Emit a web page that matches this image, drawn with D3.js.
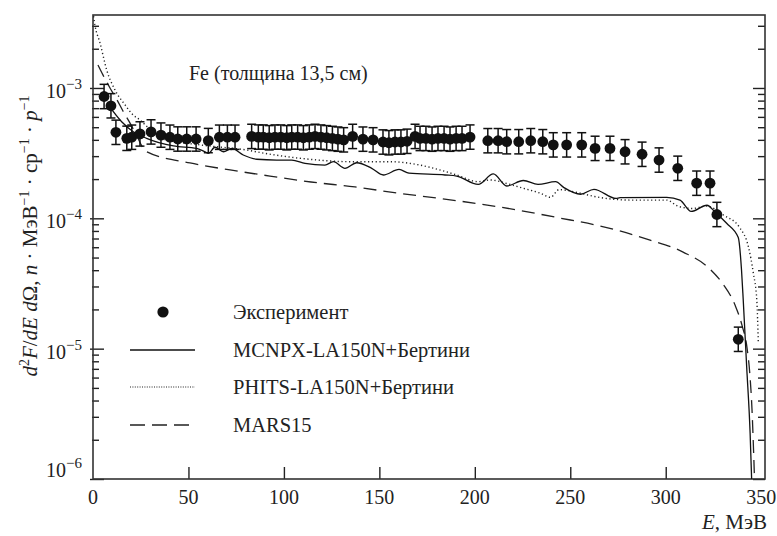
<!DOCTYPE html>
<html>
<head>
<meta charset="utf-8">
<script src="https://cdn.jsdelivr.net/npm/d3@7"></script>
<style>
  body { margin: 0; background: #fff; }
</style>
</head>
<body>
<svg id="chart" width="777" height="536"></svg>
<script>
// experiment points (energy, MeV / value)
const expE = [5.8, 9.4, 12.0, 17.7, 20.3, 24.6, 30.4, 35.6, 40.3, 44.4, 49.1, 54.0, 60.4, 66.2, 70.4, 74.4,
  83.1, 86.6, 89.2, 92.3, 95.3, 98.4, 101.5, 104.1, 107.2, 110.2, 113.3, 116.3, 119.4, 122.4, 125.4, 128.3, 131.3,
  136.0, 141.4, 146.7, 151.9, 155.0, 158.2, 161.3, 164.5, 168.7, 171.3, 174.4, 177.6, 180.7, 183.9, 187.0, 190.2, 193.3, 197.5,
  206.8, 212.2, 216.7, 223.0, 229.3, 235.6, 241.1, 248.1, 256.0, 263.0, 270.8, 278.7, 287.6, 296.5, 306.3, 316.2, 323.2, 326.8, 338.0];
const expV = [8.6e-4, 7.3e-4, 4.57e-4, 4.11e-4, 4.19e-4, 4.44e-4, 4.6e-4, 4.35e-4, 4.19e-4, 4.06e-4, 4.06e-4, 4.06e-4, 3.95e-4, 4.19e-4, 4.19e-4, 4.19e-4,
  4.25e-4, 4.2e-4, 4.2e-4, 4.15e-4, 4.2e-4, 4.2e-4, 4.15e-4, 4.2e-4, 4.2e-4, 4.15e-4, 4.2e-4, 4.25e-4, 4.2e-4, 4.15e-4, 4.1e-4, 4.05e-4, 4.0e-4,
  4.25e-4, 4.05e-4, 4.0e-4, 3.85e-4, 3.8e-4, 3.85e-4, 3.85e-4, 3.9e-4, 4.25e-4, 4.1e-4, 4.1e-4, 4.05e-4, 4.1e-4, 4.1e-4, 4.05e-4, 4.1e-4, 4.1e-4, 4.2e-4,
  3.94e-4, 3.94e-4, 3.87e-4, 3.87e-4, 3.94e-4, 3.87e-4, 3.66e-4, 3.66e-4, 3.66e-4, 3.44e-4, 3.44e-4, 3.24e-4, 3.10e-4, 2.80e-4, 2.42e-4, 1.86e-4, 1.86e-4, 1.07e-4, 1.18e-5];
const expErr = 1.24; // multiplicative error bar size

const mcnpxE = [8.0, 15.0, 21.1, 28.1, 42.1, 54.3, 58.7, 60.4, 63.9, 68.3, 72.7, 78.7, 85.8, 96.2, 104.1, 111.1, 121.5, 125.9,
  132.0, 138.1, 146.0, 152.1, 160.3, 165.5, 184.4, 190.5, 201.8, 209.7, 216.7, 225.4, 233.1, 242.3, 246.7, 255.4, 262.4,
  274.0, 276.1, 300.5, 307.5, 313.3, 321.6, 325.8, 331.9, 338.0, 339.7, 340.6, 342.4, 344.2, 345.0];
const mcnpxV = [7.41e-4, 5.51e-4, 4.62e-4, 4.11e-4, 3.59e-4, 3.44e-4, 3.24e-4, 3.15e-4, 3.51e-4, 3.24e-4, 3.44e-4, 3.06e-4, 2.84e-4, 2.80e-4, 2.80e-4, 2.64e-4, 2.56e-4, 2.72e-4,
  2.42e-4, 2.67e-4, 2.42e-4, 2.15e-4, 2.37e-4, 2.22e-4, 2.15e-4, 2.11e-4, 1.82e-4, 2.19e-4, 1.77e-4, 1.95e-4, 1.82e-4, 1.91e-4, 1.72e-4, 1.53e-4, 1.67e-4,
  1.42e-4, 1.44e-4, 1.45e-4, 1.38e-4, 1.13e-4, 1.26e-4, 1.12e-4, 9.16e-5, 7.13e-5, 4.01e-5, 2.36e-5, 7.26e-6, 2.25e-6, 1.0e-6];

const phitsE = [0.0, 1.0, 3.7, 7.2, 11.5, 16.8, 21.0, 24.6, 29.0, 35.1, 56.1, 80.5, 90.1, 117.9, 133.6, 155.6, 171.3, 184.4, 190.5,
  201.8, 208.0, 216.7, 225.4, 234.2, 239.7, 244.1, 255.1, 262.7, 282.1, 300.5, 306.4, 314.0, 321.4, 330.2, 338.9, 343.3, 345.9, 347.7, 348.5];
const phitsV = [3.8e-3, 3.04e-3, 2.21e-3, 1.37e-3, 9.66e-4, 7.41e-4, 6.21e-4, 5.68e-4, 4.94e-4, 4.13e-4, 3.66e-4, 3.34e-4, 3.15e-4, 2.80e-4, 2.72e-4, 2.72e-4, 2.56e-4, 2.29e-4, 2.15e-4,
  1.91e-4, 1.97e-4, 1.85e-4, 1.70e-4, 1.56e-4, 1.45e-4, 1.66e-4, 1.56e-4, 1.47e-4, 1.38e-4, 1.38e-4, 1.24e-4, 1.19e-4, 1.24e-4, 1.06e-4, 8.43e-5, 6.05e-5, 3.79e-5, 2.36e-5, 1.10e-5];

const marsE = [2.6, 5.2, 8.9, 12.6, 15.7, 19.4, 23.0, 26.2, 28.3, 50.8, 71.8, 92.7, 114.2, 137.2, 159.8, 181.8, 213.2, 244.6,
  265.6, 291.8, 309.1, 323.2, 330.0, 336.3, 339.9, 342.6, 344.1, 345.2, 346.0, 346.5];
const marsV = [1.50e-3, 1.26e-3, 1.0e-3, 8.09e-4, 6.66e-4, 5.38e-4, 4.28e-4, 3.47e-4, 3.23e-4, 2.66e-4, 2.35e-4, 2.11e-4, 1.90e-4, 1.74e-4, 1.56e-4, 1.42e-4, 1.22e-4, 1.005e-4,
  8.73e-5, 6.81e-5, 5.51e-5, 4.08e-5, 3.13e-5, 2.16e-5, 1.52e-5, 1.01e-5, 6.27e-6, 3.38e-6, 1.67e-6, 1.0e-6];

const xTicks = [0, 50, 100, 150, 200, 250, 300, 350];
const yMajor = [1e-6, 1e-5, 1e-4, 1e-3];
const yLabels = ["−6", "−5", "−4", "−3"];
const legendItems = ["Эксперимент", "MCNPX-LA150N+Бертини", "PHITS-LA150N+Бертини", "MARS15"];

const serif = "Liberation Serif";
const svg = d3.select("#chart").attr("font-family", serif);
const pLeft = 93, pRight = 765, pTop = 15, pBottom = 479;
const ink = "#222";

const x = d3.scaleLinear().domain([0, 352]).range([pLeft, pRight]);
const y = d3.scaleLog().domain([1e-6, 3.63e-3]).range([pBottom, pTop]);

svg.append("defs").append("clipPath").attr("id", "plotClip")
  .append("rect").attr("x", pLeft).attr("y", pTop).attr("width", pRight - pLeft).attr("height", pBottom - pTop);

// ticks, left and right, inward
const allTicks = y.ticks().filter(t => t >= 1e-6 && t <= 3.63e-3);
const isMajor = t => Math.abs(Math.log10(t) - Math.round(Math.log10(t))) < 1e-6;

const leftAxis = svg.append("g")
  .attr("transform", `translate(${pLeft},0)`)
  .call(d3.axisLeft(y).tickValues(allTicks).tickFormat("").tickSize(0));
leftAxis.select(".domain").remove();
leftAxis.selectAll(".tick line")
  .attr("x1", d => isMajor(d) ? -3 : -1)
  .attr("x2", d => isMajor(d) ? 11 : 6)
  .attr("stroke", ink).attr("stroke-width", 1.4);

const rightAxis = svg.append("g")
  .attr("transform", `translate(${pRight},0)`)
  .call(d3.axisRight(y).tickValues(allTicks).tickFormat("").tickSize(0));
rightAxis.select(".domain").remove();
rightAxis.selectAll(".tick line")
  .attr("x1", d => isMajor(d) ? -12 : -7)
  .attr("x2", 0)
  .attr("stroke", ink).attr("stroke-width", 1.4);

const bottomAxis = svg.append("g")
  .attr("transform", `translate(0,${pBottom})`)
  .call(d3.axisBottom(x).tickValues(xTicks).tickSize(0).tickFormat(""));
bottomAxis.select(".domain").remove();
bottomAxis.selectAll(".tick line")
  .attr("y2", d => (d > 0 && d < 350) ? -12 : 0)
  .attr("stroke", ink).attr("stroke-width", 1.4);

// x tick labels
svg.append("g").selectAll("text")
  .data(xTicks).join("text")
  .attr("x", d => x(d))
  .attr("y", 504)
  .attr("text-anchor", "middle")
  .attr("font-family", serif)
  .attr("font-size", 20)
  .attr("fill", ink)
  .text(d => d);

// y tick labels 10^n
const yl = svg.append("g").selectAll("text")
  .data(yMajor).join("text")
  .attr("x", 82)
  .attr("y", d => Math.min(y(d) + 10, 477))
  .attr("text-anchor", "end")
  .attr("font-family", serif)
  .attr("font-size", 20)
  .attr("fill", ink);
yl.append("tspan").text("10");
yl.append("tspan").attr("dy", -9).attr("font-size", 15).text((d, i) => yLabels[i]);

// frame
svg.append("rect")
  .attr("x", pLeft).attr("y", pTop)
  .attr("width", pRight - pLeft).attr("height", pBottom - pTop)
  .attr("fill", "none").attr("stroke", "#333").attr("stroke-width", 1.6);

// curves
const plot = svg.append("g").attr("clip-path", "url(#plotClip)");
const line = d3.line().x(d => x(d[0])).y(d => y(d[1])).curve(d3.curveMonotoneX);

plot.append("path")
  .datum(d3.zip(marsE, marsV))
  .attr("d", line).attr("fill", "none")
  .attr("stroke", ink).attr("stroke-width", 1.3).attr("stroke-dasharray", "13,7");

plot.append("path")
  .datum(d3.zip(phitsE, phitsV))
  .attr("d", line).attr("fill", "none")
  .attr("stroke", ink).attr("stroke-width", 1.4).attr("stroke-dasharray", "1.2,2.6");

plot.append("path")
  .datum(d3.zip(mcnpxE, mcnpxV))
  .attr("d", line).attr("fill", "none")
  .attr("stroke", "#111").attr("stroke-width", 1.3);

// experiment: error bars + points
const expData = d3.zip(expE, expV);
const eb = plot.append("g").attr("stroke", "#111").attr("stroke-width", 1.5);
eb.selectAll(".bar").data(expData).join("line")
  .attr("x1", d => x(d[0])).attr("x2", d => x(d[0]))
  .attr("y1", d => y(d[1] * expErr)).attr("y2", d => y(d[1] / expErr));
eb.selectAll(".capTop").data(expData).join("line")
  .attr("x1", d => x(d[0]) - 4.5).attr("x2", d => x(d[0]) + 4.5)
  .attr("y1", d => y(d[1] * expErr)).attr("y2", d => y(d[1] * expErr));
eb.selectAll(".capBot").data(expData).join("line")
  .attr("x1", d => x(d[0]) - 4.5).attr("x2", d => x(d[0]) + 4.5)
  .attr("y1", d => y(d[1] / expErr)).attr("y2", d => y(d[1] / expErr));

plot.append("g").selectAll("circle")
  .data(expData).join("circle")
  .attr("cx", d => x(d[0])).attr("cy", d => y(d[1]))
  .attr("r", 5.4).attr("fill", "#111");

// annotation
svg.append("text")
  .attr("x", 189).attr("y", 80)
  .attr("font-family", serif)
  .attr("font-size", 20)
  .attr("fill", ink)
  .text("Fe (толщина 13,5 см)");

// legend
const legendY = [312, 350, 387, 425];
const lg = svg.append("g");
lg.append("circle").attr("cx", 163).attr("cy", legendY[0]).attr("r", 5.6).attr("fill", "#111");
lg.append("line").attr("x1", 130).attr("x2", 195).attr("y1", legendY[1]).attr("y2", legendY[1])
  .attr("stroke", "#111").attr("stroke-width", 1.3);
lg.append("line").attr("x1", 130).attr("x2", 195).attr("y1", legendY[2]).attr("y2", legendY[2])
  .attr("stroke", ink).attr("stroke-width", 1.2).attr("stroke-dasharray", "1,1.4");
lg.append("line").attr("x1", 130).attr("x2", 196).attr("y1", legendY[3]).attr("y2", legendY[3])
  .attr("stroke", ink).attr("stroke-width", 1.3).attr("stroke-dasharray", "15,7");
lg.selectAll("text").data(legendItems).join("text")
  .attr("x", 233).attr("y", (d, i) => legendY[i] + 6.5)
  .attr("font-family", serif)
  .attr("font-size", 20.5)
  .attr("fill", ink)
  .text(d => d);

// axis titles
const xt = svg.append("text")
  .attr("x", 767).attr("y", 529)
  .attr("text-anchor", "end")
  .attr("font-family", serif)
  .attr("font-size", 21)
  .attr("fill", ink);
xt.append("tspan").attr("font-style", "italic").text("E");
xt.append("tspan").text(", МэВ");

const yt = svg.append("text")
  .attr("transform", "translate(37,236) rotate(-90)")
  .attr("text-anchor", "middle")
  .attr("font-family", serif)
  .attr("font-size", 21)
  .attr("fill", ink);
yt.append("tspan").attr("font-style", "italic").text("d");
yt.append("tspan").attr("dy", -8).attr("font-size", 14).text("2");
yt.append("tspan").attr("dy", 8).attr("font-style", "italic").text("F");
yt.append("tspan").text("/");
yt.append("tspan").attr("font-style", "italic").text("dE d");
yt.append("tspan").text("Ω, ");
yt.append("tspan").attr("font-style", "italic").text("n");
yt.append("tspan").text(" · МэВ");
yt.append("tspan").attr("dy", -8).attr("font-size", 14).text("−1");
yt.append("tspan").attr("dy", 8).text(" · ср");
yt.append("tspan").attr("dy", -8).attr("font-size", 14).text("−1");
yt.append("tspan").attr("dy", 8).text(" · ");
yt.append("tspan").attr("font-style", "italic").text("p");
yt.append("tspan").attr("dy", -8).attr("font-size", 14).text("−1");
</script>
</body>
</html>
